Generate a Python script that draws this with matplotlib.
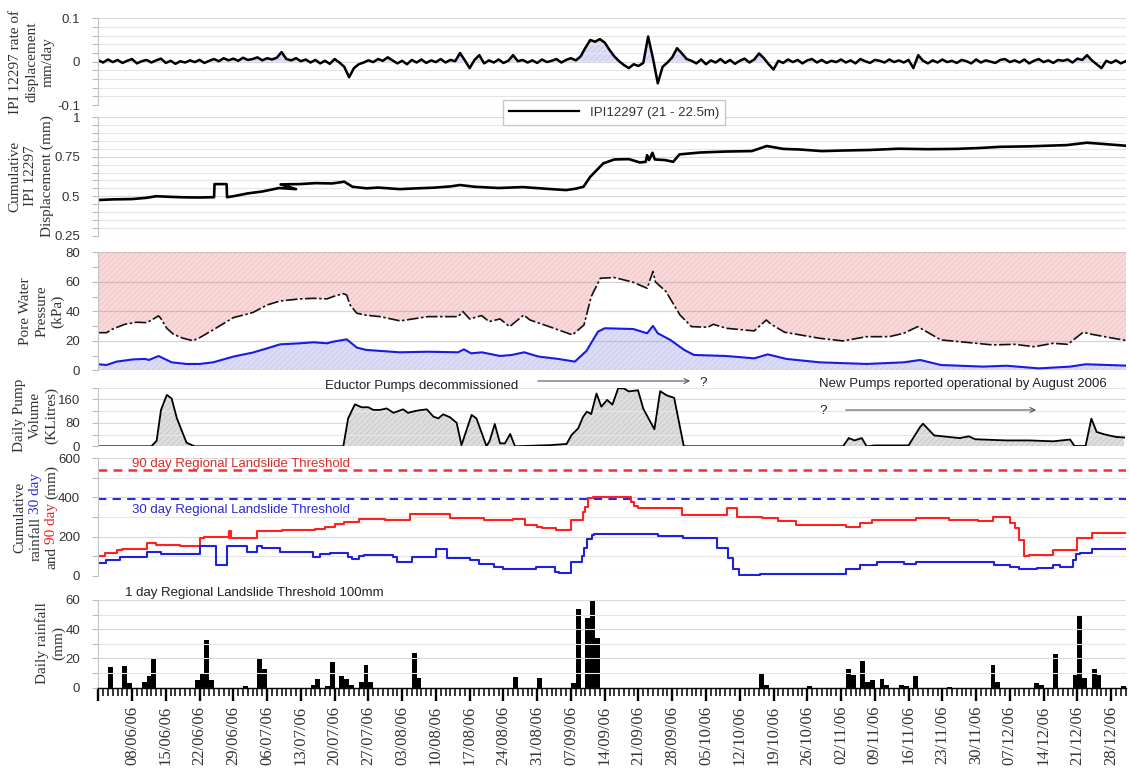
import numpy as np
import matplotlib
matplotlib.use("Agg")
import matplotlib.pyplot as plt
from matplotlib.ticker import MultipleLocator, FixedLocator, FixedFormatter
from matplotlib.lines import Line2D

plt.rcParams['hatch.linewidth'] = 0.5

# ------------------------------------------------------------------ data
# day index 0 = 01/06/06
date_tick_days = [0, 7, 14, 21, 28, 35, 42, 49, 56, 63, 70, 77, 84, 91, 98, 105, 112, 119,
                  126, 133, 140, 147, 154, 161, 168, 175, 182, 189, 196, 203, 210]
date_tick_labels = ['', '08/06/06', '15/06/06', '22/06/06', '29/06/06', '06/07/06', '13/07/06',
                    '20/07/06', '27/07/06', '03/08/06', '10/08/06', '17/08/06', '24/08/06',
                    '31/08/06', '07/09/06', '14/09/06', '21/09/06', '28/09/06', '05/10/06',
                    '12/10/06', '19/10/06', '26/10/06', '02/11/06', '09/11/06', '16/11/06',
                    '23/11/06', '30/11/06', '07/12/06', '14/12/06', '21/12/06', '28/12/06']

# IPI 12297 rate of displacement, one reading per day (thousandths of mm/day)
rate_thousandths = [
    3, -2, 5, -1, 4, -3, 2, 6, -4, 1,
    4, -2, 3, 7, -3, 2, -5, 1, -2, 3,
    -1, 4, -3, 2, 6, 1, 8, 3, 7, 2,
    9, 4, 6, 10, 3, 8, 5, 9, 22, 6,
    3, 8, 1, 5, -2, 4, -4, 2, -5, 6,
    -2, -12, -36, -15, -6, -2, 3, -1, 6, 2,
    10, 3, -4, 2, -6, 4, -2, 5, -3, 3,
    -1, 6, -2, 4, 1, 20, 3, -15, 4, 15,
    -4, 3, -2, 5, -3, 2, 15, 1, 4, -2,
    3, -3, 5, -1, 2, 6, -2, 4, 8, 3,
    12, 32, 50, 46, 52, 44, 27, 12, 1, -8,
    -15, -6, -10, -3, 58, 8, -50, -12, -2, 10,
    31, 19, 6, 2, -4, 5, -6, 3, -2, 6,
    -3, 4, -5, 2, 7, -2, 5, 19, 8, -6,
    -18, 2, -3, 5, -1, 4, -4, 3, 6, -2,
    4, -3, 2, -1, 5, -2, 3, -4, 6, 1,
    -3, 4, 2, -2, 5, -1, 3, -2, 4, -15,
    15, 2, -4, 3, -2, 5, -1, 2, -3, 4,
    1, -4, 5, -2, 3, 0, -3, 4, 6, -1,
    3, -2, 5, -4, 2, 6, -1, 3, -3, 4,
    2, 5, -2, 7, 4, 15, 3, -6, -15, 2,
    -3, 3, -4, 1]

# cumulative displacement (mm)
disp_days = [0, 3, 7, 10, 12, 15, 18, 21, 24, 24.1, 26.6, 26.7, 28, 31, 34, 37.5, 41, 37.8,
             41.8, 45, 48.5, 51, 52.7, 55.6, 58, 62.5, 66, 69.5, 73, 75, 78, 83, 88, 93, 97,
             99, 100.6, 102, 104.7, 107, 110, 112.3, 113.5, 113.8, 114.2, 114.9, 115.4, 117.5,
             119.2, 120.5, 124.8, 130, 135.5, 138.6, 142, 145.5, 150, 155, 160, 166, 172, 178,
             183, 187, 193, 200.8, 205, 208, 213]
disp_vals = [0.476, 0.480, 0.482, 0.490, 0.500, 0.496, 0.493, 0.492, 0.494, 0.577, 0.577, 0.494,
             0.500, 0.518, 0.530, 0.552, 0.545, 0.575, 0.577, 0.583, 0.581, 0.592, 0.560, 0.550,
             0.555, 0.545, 0.550, 0.554, 0.562, 0.571, 0.560, 0.552, 0.558, 0.547, 0.539, 0.548,
             0.560, 0.623, 0.708, 0.733, 0.735, 0.714, 0.718, 0.760, 0.729, 0.775, 0.733, 0.729,
             0.718, 0.765, 0.777, 0.783, 0.786, 0.818, 0.800, 0.796, 0.786, 0.790, 0.793, 0.801,
             0.798, 0.800, 0.806, 0.813, 0.816, 0.824, 0.839, 0.832, 0.820]

# pore water pressure (kPa): upper piezometer (dash-dot) and lower (blue)
pwp_top_days = [0, 1.7, 3, 5.5, 8, 10, 11, 12.5, 13, 14.2, 15.6, 17.6, 19.6, 21, 23.8, 28, 32,
                35, 37.7, 41.8, 44.6, 47.4, 48.7, 50.8, 51.5, 52.2, 53.6, 55.6, 58.4, 62.6, 68.4,
                74.6, 75.6, 77, 79.5, 81, 83.3, 85.3, 88.2, 89.5, 93.5, 98.3, 100.7, 102.2, 104.1,
                107, 110.9, 113.8, 114.4, 115, 115.5, 117.7, 120.6, 123, 126.4, 127.5, 130.2, 136,
                138.5, 139.5, 142.3, 149.6, 154.4, 159.3, 164, 167, 169.9, 174.7, 180.5, 185.4,
                190, 194, 198, 201, 204.2, 206, 210.5, 213.7]
pwp_top_vals = [25.5, 25.5, 28, 31.2, 32.6, 32.3, 34, 36.9, 35, 28.5, 24.4, 21.7, 20.1, 22.1, 27.4,
                35.7, 39.1, 44.3, 47, 48.4, 48.8, 48.4, 50, 52, 51, 44.3, 38.7, 37.3, 36.4, 33.5,
                36.4, 36.4, 39.8, 34.8, 37.1, 33, 34.8, 29.6, 37.5, 34.1, 29.6, 24, 30.7, 50, 62.4,
                62.9, 59.7, 55.6, 61.3, 67, 60, 53.4, 37.5, 29.6, 29.2, 31.2, 28.5, 26.7, 34.1,
                31.2, 25.8, 21.7, 19.9, 22.8, 22.8, 25.1, 29.6, 20.6, 18.8, 17.2, 17.6, 16, 18.3,
                17.6, 25.8, 24.4, 21.7, 19.9]
pwp_low_days = [0, 1.7, 3.8, 7.2, 9.7, 10.5, 12.5, 15.2, 18.3, 21, 23.8, 28, 32, 35, 37.7, 41.8,
                44.6, 47.4, 48.7, 51.5, 53.6, 55.6, 62.5, 68.4, 74.6, 75.8, 77.3, 79.5, 83.3,
                85.7, 88.3, 91.3, 95.4, 98.8, 101.2, 103.6, 105, 110.9, 113.8, 115, 116, 118.6,
                121.5, 123.5, 130.2, 136, 138.8, 142.7, 149.6, 159.3, 167, 170.4, 174.7, 183.4,
                188.3, 195, 201.5, 204.7, 213.7]
pwp_low_vals = [4.1, 3.6, 5.9, 7.4, 7.7, 7, 9.7, 5.4, 4.3, 4.3, 5.4, 9.3, 12, 14.9, 17.6, 18.3,
                19, 18.3, 19.4, 21, 15.4, 13.8, 12.2, 12.6, 12.2, 14.2, 11.5, 12.2, 9.7, 10.4,
                12.2, 9.3, 7.7, 5.9, 13.1, 26.2, 28.5, 28, 25.1, 30.1, 25.1, 20.6, 13.8, 10.4,
                9.7, 8.1, 10.8, 7.7, 5.4, 4.3, 5.4, 7, 3.6, 2.5, 3.1, 1.3, 2.5, 4.1, 3.1]

# daily pump volume (KLitres)
pump_days = [0, 11, 12.1, 13, 14.2, 15.2, 16.3, 18.3, 20, 50.8, 51.8, 53.2, 54.6, 56, 57, 58.4,
             59.8, 61.2, 63.2, 64.2, 65.9, 68.1, 69.5, 70.5, 71.5, 72.9, 74.3, 75.3, 77.4, 78.4,
             80.5, 81.2, 82.2, 83.3, 84.3, 85.4, 86.4, 93.7, 97.1, 98.1, 99.5, 100.5, 101.3,
             102.2, 103.3, 104.3, 105.5, 106.6, 107.8, 109, 110, 111.9, 113, 115.3, 116.5,
             117.8, 119.4, 121.4, 154.4, 155.6, 156.8, 158.3, 159.3, 161, 168, 170.4, 171,
             173.3, 178.6, 180.5, 181.8, 188.3, 193, 198, 201.5, 202.4, 204.7, 205.9, 207,
             208.5, 211, 212.7]
pump_vals = [0, 0, 19, 124, 175, 163, 95, 12, 0, 0, 95, 143, 133, 133, 124, 124, 129, 114, 126,
             114, 121, 126, 101, 95, 109, 99, 80, 4, 107, 95, 0, 21, 76, 10, 10, 42, 0, 4, 8, 38,
             61, 100, 118, 110, 180, 135, 158, 142, 198, 197, 187, 191, 128, 58, 188, 174, 165,
             0, 0, 28, 20, 28, 0, 3, 3, 66, 77, 37, 28, 34, 24, 20, 20, 17, 23, 1, 1, 94, 49, 41,
             32, 30]

# cumulative rainfall (mm), step changes
rain90_days = [0, 1.4, 3.8, 5, 10, 12, 17, 21, 22, 27, 27.2, 27.5, 33, 38, 45, 47, 49, 51, 54,
               56, 59.5, 64.7, 73, 80, 86, 88.5, 91, 92, 95, 98, 100.5, 101, 101.5, 102.5, 110.5,
               111, 112, 121, 130.4, 132.5, 137.7, 141, 144.6, 155, 158, 160.5, 169.5, 176.4,
               182.5, 185.5, 189, 190, 191, 192, 193, 198, 203, 206, 213]
rain90_vals = [100, 114, 131, 135, 166, 155, 150, 191, 200, 193, 230, 193, 229, 234, 240, 251,
               264, 273, 288, 290, 285, 314, 297, 286, 292, 258, 250, 246, 233, 284, 323, 350,
               396, 400, 379, 354, 345, 311, 345, 301, 294, 281, 258, 250, 270, 284, 294, 287,
               281, 301, 270, 243, 180, 102, 105, 131, 192, 218, 218]
rain30_days = [0, 1.7, 4.5, 10, 13, 21, 24.4, 26.6, 30.8, 33, 34, 37.7, 44.6, 46, 48, 51.8, 52.5,
               54, 55, 61, 62, 65, 70, 72.3, 77, 79, 82, 84, 90.8, 94.7, 95.5, 98, 100.2, 100.8,
               101.3, 102.3, 102.8, 116, 121.3, 128.2, 128.7, 130.5, 131.7, 132.8, 137.3, 155,
               158, 161.4, 167, 169.5, 185.8, 189, 191, 194.6, 198, 199.5, 202, 202.7, 203.5,
               206, 213]
rain30_vals = [63, 80, 97, 123, 109, 152, 55, 154, 123, 152, 140, 121, 97, 111, 118, 94, 85,
               101, 104, 94, 68, 97, 137, 92, 80, 60, 46, 34, 43, 17, 12, 68, 102, 140, 187, 209,
               212, 204, 195, 144, 141, 93, 34, 2, 8, 34, 56, 68, 60, 68, 56, 43, 34, 39, 56, 46,
               80, 111, 114, 139, 139]
threshold_90 = 540
threshold_30 = 390

# daily rainfall (mm)
rain_days = [2, 5, 6, 9, 10, 11, 20, 21, 22, 23, 30, 33, 34, 44, 45, 47, 48, 50, 51, 52, 54, 55,
             56, 65, 66, 86, 91, 98, 99, 101, 102, 103, 137, 138, 147, 155, 156, 158, 159, 160,
             162, 163, 166, 167, 169, 176, 185, 186, 194, 195, 198, 202, 203, 204, 206, 207, 212]
rain_mm = [14, 15, 3, 4, 8, 20, 5, 10, 32.5, 5, 1, 20.5, 13, 1.5, 5.7, 1, 17.5, 8.2, 6, 2, 3.5,
           15.6, 3.5, 23.6, 6.6, 7, 6.2, 3, 54, 48, 60, 34, 9.7, 2, 0.8, 12.7, 8.4, 18.3, 4, 5.2,
           6.1, 2, 2, 1, 7.7, 0.6, 15.6, 3.6, 3.4, 2, 23.3, 8.8, 49.5, 6.3, 12.9, 8.8, 1]

# ------------------------------------------------------------------ figure
W_PX, H_PX = 1129, 769
fig = plt.figure(figsize=(W_PX / 100, H_PX / 100), dpi=100)
fig.patch.set_facecolor('white')

SERIF = ['Liberation Serif', 'DejaVu Serif']
SANS = ['Liberation Sans', 'DejaVu Sans']
TXT = '#333333'

X0_PX, X1_PX = 98.3, 1125.6
XMAX = 213


def panel(top, bottom):
    return fig.add_axes([X0_PX / W_PX, 1 - bottom / H_PX, (X1_PX - X0_PX) / W_PX,
                         (bottom - top) / H_PX])


def style(ax, ylim, major, labels, minor, minor_grid=True):
    ax.set_xlim(0, XMAX)
    ax.set_ylim(*ylim)
    ax.patch.set_alpha(0)
    for s in ['top', 'right', 'bottom']:
        ax.spines[s].set_visible(False)
    ax.spines['left'].set_color('#c4c4c4')
    ax.spines['left'].set_linewidth(0.8)
    ax.yaxis.set_major_locator(FixedLocator(major))
    ax.yaxis.set_major_formatter(FixedFormatter(labels))
    ax.yaxis.set_minor_locator(MultipleLocator(minor))
    ax.set_axisbelow('line')
    ax.grid(True, which='major', axis='y', color='#d9d9d9', lw=0.8)
    if minor_grid:
        ax.grid(True, which='minor', axis='y', color='#e6e6e6', lw=0.8)
    ax.tick_params(axis='y', which='both', colors='#bdbdbd', labelcolor=TXT, length=4,
                   width=0.8, pad=9, labelsize=9.5)
    for t in ax.get_yticklabels():
        t.set_fontfamily(SANS)
    ax.tick_params(axis='x', which='both', bottom=False, labelbottom=False)


# ---- panel 1: rate of displacement
ax1 = panel(18.3, 105.0)
rate_days = np.arange(len(rate_thousandths))
rate = np.array(rate_thousandths) / 1000.0
ax1.fill_between(rate_days, 0, rate, where=rate > 0, interpolate=True, facecolor='#dcdcf6',
                 edgecolor='#c6c6ee', hatch='//////', lw=0)
ln_rate, = ax1.plot(rate_days, rate, color='black', lw=1.8)
style(ax1, (-0.1, 0.1), [-0.1, 0, 0.1], ['-0.1', '0', '0.1'], 0.02)

# ---- panel 2: cumulative displacement
ax2 = panel(117.3, 235.7)
ax2.plot(disp_days, disp_vals, color='black', lw=1.9)
style(ax2, (0.25, 1.0), [0.25, 0.5, 0.75, 1.0], ['0.25', '0.5', '0.75', '1'], 0.05)

# ---- panel 3: pore water pressure
ax3 = panel(252.3, 370.3)
ax3.fill_between(pwp_top_days, pwp_top_vals, 80, facecolor='#f9d8d9', edgecolor='#eec2c4',
                 hatch='//////', lw=0)
ax3.fill_between(pwp_low_days, 0, pwp_low_vals, facecolor='#dcdcf6', edgecolor='#c8c8ee',
                 hatch='//////', lw=0)
ax3.plot(pwp_top_days, pwp_top_vals, color='#111111', lw=1.2, dashes=(7, 1.5, 1.5, 1.5))
ax3.plot(pwp_low_days, pwp_low_vals, color='#1a1ae6', lw=1.5)
style(ax3, (0, 80), [0, 20, 40, 60, 80], ['0', '20', '40', '60', '80'], 10, minor_grid=False)
ax3.grid(True, which='major', axis='y', color='#8a8a8a', alpha=0.35, lw=0.9)

# ---- panel 4: pump volume
ax4 = panel(387.6, 446.3)
ax4.fill_between(pump_days, 0, pump_vals, facecolor='#dedede', edgecolor='#c2c2c2',
                 hatch='//////', lw=0)
ax4.plot(pump_days, pump_vals, color='black', lw=1.3)
style(ax4, (0, 200), [0, 80, 160], ['0', '80', '160'], 40)

# ---- panel 5: cumulative rainfall
ax5 = panel(458.3, 575.7)
ax5.axhline(threshold_90, color='#ff2a2a', lw=1.8, dashes=(3.5, 2.5))
ax5.axhline(threshold_30, color='#2a2ae0', lw=1.5, dashes=(4, 3))
ax5.plot(rain90_days, rain90_vals, color='#ff2020', lw=1.5, drawstyle='steps-post')
ax5.plot(rain30_days, rain30_vals, color='#2020e0', lw=1.5, drawstyle='steps-post')
style(ax5, (0, 600), [0, 200, 400, 600], ['0', '200', '400', '600'], 100)

# ---- panel 6: daily rainfall
ax6 = panel(600.0, 687.5)
ax6.bar(np.array(rain_days) + 0.5, rain_mm, width=1.0, color='black', lw=0)
style(ax6, (0, 60), [0, 20, 40, 60], ['0', '20', '40', '60'], 10)
ax6.spines['bottom'].set_visible(True)
ax6.spines['bottom'].set_color('black')
ax6.spines['bottom'].set_linewidth(1.0)
ax6.xaxis.set_major_locator(FixedLocator(date_tick_days))
ax6.xaxis.set_major_formatter(FixedFormatter(date_tick_labels))
ax6.xaxis.set_minor_locator(MultipleLocator(1))
ax6.tick_params(axis='x', which='major', bottom=True, labelbottom=True, direction='out',
                length=9, width=1.7, color='black', labelsize=12, labelcolor=TXT,
                labelrotation=90, pad=4)
ax6.tick_params(axis='x', which='minor', bottom=True, direction='out', length=6, width=1.1,
                color='black')
for t in ax6.get_xticklabels():
    t.set_fontfamily(SERIF)

# ------------------------------------------------------------------ legend
fig.legend(handles=[Line2D([], [], color='black', lw=1.6)], labels=['IPI12297 (21 - 22.5m)'],
           loc='center', bbox_to_anchor=(614 / W_PX, 1 - 112.5 / H_PX), frameon=True,
           fancybox=False, edgecolor='#c8c8c8', framealpha=1, handlelength=5.3,
           borderpad=0.45, prop={'family': SANS, 'size': 9.5}, labelcolor=TXT)


# ------------------------------------------------------------------ texts
def T(x, y, s, **kw):
    return fig.text(x / W_PX, 1 - y / H_PX, s, **kw)


lab = dict(rotation=90, ha='center', va='center', multialignment='center',
           family=SERIF, color='#333333', linespacing=1.3)
T(32, 62, 'IPI 12297 rate of\ndisplacement\nmm/day', fontsize=11, **lab)
T(31, 176, 'Cumulative\nIPI 12297\nDisplacement (mm)', fontsize=11, **lab)
T(42, 311, 'Pore Water\nPressure\n(kPa)', fontsize=11, **lab)
T(36, 415, 'Daily Pump\nVolume\n(KLitres)', fontsize=11, **lab)
T(50, 643, 'Daily rainfall\n(mm)', fontsize=11, **lab)

# panel 5 label with coloured words
p5_lines = [(20, [('Cumulative', '#333333')]),
            (36, [('rainfall', '#333333'), ('30 day', '#2a2ad8')]),
            (52, [('and', '#333333'), ('90 day', '#e82020'), ('(mm)', '#333333')])]
p5_center_y = 517
seg_objs = []
for xc, segs in p5_lines:
    objs = [fig.text(0, 0, s, rotation=90, ha='center', va='bottom', family=SERIF,
                     color=c, fontsize=11) for s, c in segs]
    seg_objs.append((xc, objs))
fig.canvas.draw()
rend = fig.canvas.get_renderer()
gap = 3.5
for xc, objs in seg_objs:
    hs = [o.get_window_extent(rend).height for o in objs]
    total = sum(hs) + gap * (len(hs) - 1)
    y = (H_PX - p5_center_y) - total / 2
    for o, h in zip(objs, hs):
        o.set_position((xc / W_PX, y / H_PX))
        y += h + gap

ann = dict(family=SANS, fontsize=9.5, color='#222222', va='center')
T(422, 386.5, 'Eductor Pumps decommissioned', ha='center', **ann)
T(963, 384, 'New Pumps reported operational by August 2006', ha='center', **ann)
T(703, 383, '?', ha='center', **ann)
T(823, 410.5, '?', ha='center', **ann)
T(241, 463.5, '90 day Regional Landslide Threshold', ha='center', family=SANS, fontsize=9.5,
  color='#e02828', va='center')
T(241, 510.5, '30 day Regional Landslide Threshold', ha='center', family=SANS, fontsize=9.5,
  color='#2a2ad0', va='center')
T(254, 593, '1 day Regional Landslide Threshold 100mm', ha='center', family=SANS, fontsize=9.5,
  color='#222222', va='center')

for (xa, xb, yy) in [(535, 693, 381), (843, 1039, 410)]:
    fig.add_artist(matplotlib.patches.FancyArrowPatch(
        (xa / W_PX, 1 - yy / H_PX), (xb / W_PX, 1 - yy / H_PX),
        transform=fig.transFigure, arrowstyle='->', mutation_scale=9, color='#555555',
        lw=0.8))

fig.savefig('out.png', dpi=100)
